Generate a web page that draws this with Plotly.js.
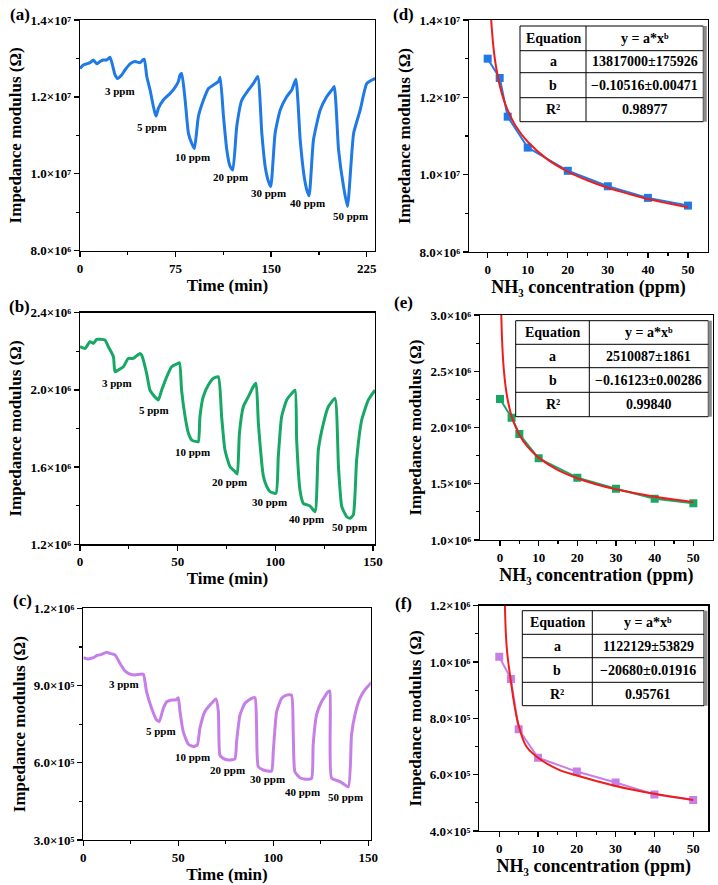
<!DOCTYPE html>
<html><head><meta charset="utf-8">
<script src="https://cdn.plot.ly/plotly-3.0.1.min.js"></script>
<style>html,body{margin:0;padding:0;background:#fff}#chart{width:718px;height:885px}</style>
</head><body><div id="chart"></div>
<script>
// ---------- DATA ----------
const timeA = [0,2.6,5.2,7.9,10.5,13.1,15.7,18.3,20.9,23.6,27.5,29.3,32.7,35.3,39.3,43.2,47.1,49.2,50.5,52.4,55,57.6,58.9,59.7,61.5,65.4,70.7,74.6,77.2,78.5,79.8,82.5,85.1,87.7,89.8,92.9,96.9,100.8,104.7,108.6,110,112.6,115.2,117.8,119.9,123,127,132.2,136.1,139.5,142.7,145.3,147.9,149.7,153.1,157.1,162.3,166.2,169.4,172.8,175.9,178,179.8,183.2,188.5,193.7,197.6,199.5,202.9,206.8,209.9,214.7,219.9,225.1,231.7];
const impA = [12.74e6,12.83e6,12.86e6,12.89e6,12.96e6,12.86e6,12.92e6,12.96e6,12.96e6,13.03e6,12.57e6,12.48e6,12.57e6,12.70e6,12.86e6,12.92e6,12.89e6,12.96e6,12.98e6,12.53e6,12.18e6,11.75e6,11.57e6,11.50e6,11.70e6,11.92e6,12.09e6,12.25e6,12.40e6,12.57e6,12.61e6,11.92e6,11.05e6,10.79e6,10.66e6,11.49e6,11.92e6,12.22e6,12.31e6,12.40e6,12.51e6,11.49e6,10.62e6,10.19e6,10.10e6,11.23e6,11.92e6,12.18e6,12.35e6,12.53e6,11.05e6,10.19e6,9.80e6,9.67e6,11.05e6,11.66e6,12.01e6,12.18e6,12.46e6,10.88e6,9.93e6,9.58e6,9.43e6,10.88e6,11.66e6,12.01e6,12.18e6,12.27e6,10.62e6,9.67e6,9.15e6,11.05e6,11.66e6,12.35e6,12.48e6];

const timeB = [0,2.6,5.1,6.8,8.5,10.2,12.8,14.5,17.1,17.9,19.6,22.2,24.7,27.3,30.7,31.6,34.1,35.8,37.5,40.1,41.8,44.4,46.9,49.5,50.9,52,53.8,55.5,57.2,59.7,60.6,61.4,63.1,65.7,68.3,70.8,72.5,74.2,76.8,79.4,80.5,81.6,83.6,86.2,88.7,90.1,91.3,93.9,95.6,97.3,100.3,101.5,103.2,105.8,108.4,110.1,110.9,112.6,114.3,117.7,120.3,122,124.6,127.1,130.5,132.3,134,136.5,138.2,139.9,141.6,144.2,147.6,151];
const impB = [2.224e6,2.215e6,2.250e6,2.241e6,2.262e6,2.262e6,2.258e6,2.224e6,2.172e6,2.094e6,2.103e6,2.120e6,2.163e6,2.163e6,2.189e6,2.180e6,2.086e6,1.999e6,1.974e6,1.948e6,1.999e6,2.068e6,2.120e6,2.134e6,2.141e6,1.999e6,1.861e6,1.775e6,1.740e6,1.732e6,1.732e6,1.861e6,1.965e6,2.025e6,2.060e6,2.068e6,1.861e6,1.689e6,1.602e6,1.576e6,1.564e6,1.775e6,1.913e6,1.965e6,2.017e6,2.034e6,1.827e6,1.551e6,1.499e6,1.473e6,1.464e6,1.654e6,1.861e6,1.948e6,1.982e6,1.999e6,1.740e6,1.481e6,1.412e6,1.399e6,1.369e6,1.689e6,1.827e6,1.913e6,1.956e6,1.602e6,1.395e6,1.343e6,1.335e6,1.352e6,1.637e6,1.844e6,1.948e6,1.999e6];

const timeC = [0,2.6,5.3,7,9.6,12.3,14,16.7,19.3,21.9,24.6,27.2,29.8,31.6,33.3,36,38.6,40,42.1,43.9,46.5,48.8,50,50.9,52.6,55.3,57.9,60,61.4,64,67.5,69.8,71.1,71.9,73.7,76.3,79.8,80.7,82.5,85.1,88.6,90.4,91.2,92.1,94.7,99.1,100,101.8,104.4,107,109.6,110.5,111.4,114,117.5,120.2,121,122.8,125.4,128.9,129.8,130.7,135.1,139.5,141.2,143,145.6,148.2,151.8];
const impC = [1.008e6,1.003e6,1.008e6,1.016e6,1.021e6,1.029e6,1.025e6,1.019e6,0.986e6,0.957e6,0.944e6,0.941e6,0.944e6,0.944e6,0.876e6,0.811e6,0.766e6,0.760e6,0.811e6,0.837e6,0.844e6,0.844e6,0.853e6,0.799e6,0.721e6,0.672e6,0.663e6,0.669e6,0.734e6,0.799e6,0.831e6,0.848e6,0.799e6,0.630e6,0.617e6,0.611e6,0.615e6,0.682e6,0.786e6,0.831e6,0.850e6,0.853e6,0.747e6,0.585e6,0.572e6,0.568e6,0.643e6,0.799e6,0.850e6,0.863e6,0.863e6,0.721e6,0.565e6,0.542e6,0.536e6,0.540e6,0.669e6,0.786e6,0.837e6,0.876e6,0.879e6,0.540e6,0.527e6,0.507e6,0.708e6,0.786e6,0.850e6,0.883e6,0.913e6];

const concPts = [0,3,5,10,20,30,40,50];
const impD = [13.0e6,12.5e6,11.5e6,10.7e6,10.1e6,9.7e6,9.4e6,9.2e6];
const impE = [2.253e6,2.087e6,1.942e6,1.726e6,1.554e6,1.456e6,1.367e6,1.326e6];
const impF = [1.019e6,0.940e6,0.761e6,0.660e6,0.611e6,0.572e6,0.530e6,0.510e6];

const fitConcD = [0.85,1,1.5,2,3,4,5,7,10,15,20,25,30,35,40,45,50];
const fitD = [14.06e6,13.82e6,13.24e6,12.85e6,12.31e6,11.94e6,11.67e6,11.26e6,10.85e6,10.39e6,10.08e6,9.85e6,9.66e6,9.51e6,9.37e6,9.26e6,9.16e6];
const fitConcE = [0.3,0.5,0.75,1,1.5,2,3,4,5,7,10,15,20,25,30,35,40,45,50];
const fitE = [3.05e6,2.81e6,2.63e6,2.51e6,2.35e6,2.245e6,2.10e6,2.01e6,1.936e6,1.834e6,1.732e6,1.622e6,1.549e6,1.494e6,1.451e6,1.415e6,1.385e6,1.359e6,1.336e6];
const fitConcF = [1.4,1.7,2,2.5,3,4,5,7,10,15,20,30,40,50];
const fitF = [1.23e6,1.10e6,1.04e6,0.98e6,0.93e6,0.84e6,0.775e6,0.70e6,0.66e6,0.62e6,0.597e6,0.56e6,0.532e6,0.510e6];

const ppmLabels = ['3 ppm','5 ppm','10 ppm','20 ppm','30 ppm','40 ppm','50 ppm'];

const tableRows = {
  d: [['Equation','y = a*xᵇ'],['a','13817000±175926'],['b','−0.10516±0.00471'],['R²','0.98977']],
  e: [['Equation','y = a*xᵇ'],['a','2510087±1861'],['b','−0.16123±0.00286'],['R²','0.99840']],
  f: [['Equation','y = a*xᵇ'],['a','1122129±53829'],['b','−20680±0.01916'],['R²','0.95761']]
};

// y tick values / labels
const yTicksA = [8e6,1.0e7,1.2e7,1.4e7], yTextA = ['8.0×10⁶','1.0×10⁷','1.2×10⁷','1.4×10⁷'], yMinorA=[9e6,1.1e7,1.3e7];
const yTicksB = [1.2e6,1.6e6,2.0e6,2.4e6], yTextB = ['1.2×10⁶','1.6×10⁶','2.0×10⁶','2.4×10⁶'], yMinorB=[1.4e6,1.8e6,2.2e6];
const yTicksC = [3e5,6e5,9e5,1.2e6], yTextC = ['3.0×10⁵','6.0×10⁵','9.0×10⁵','1.2×10⁶'], yMinorC=[4.5e5,7.5e5,1.05e6];
const yTicksE = [1.0e6,1.5e6,2.0e6,2.5e6,3.0e6], yTextE = ['1.0×10⁶','1.5×10⁶','2.0×10⁶','2.5×10⁶','3.0×10⁶'], yMinorE=[1.25e6,1.75e6,2.25e6,2.75e6];
const yTicksF = [4e5,6e5,8e5,1.0e6,1.2e6], yTextF = ['4.0×10⁵','6.0×10⁵','8.0×10⁵','1.0×10⁶','1.2×10⁶'], yMinorF=[5e5,7e5,9e5,1.1e6];
const xTicksA = [0,75,150,225], xMinorA = [37.5,112.5,187.5];
const xTicksBC = [0,50,100,150], xMinorBC = [25,75,125];
const xTicksConc = [0,10,20,30,40,50], xMinorConc = [5,15,25,35,45];

// ---------- STYLE / LAYOUT ----------
const FAM = 'Liberation Serif, Times New Roman, DejaVu Serif, serif';
const BLUE = '#1f7ae6', GREEN = '#17a865', PURPLE = '#c57fe6', RED = '#ee1c1c';
const W = 718, H = 885;
const fx = p => p / W, fy = p => 1 - p / H;
const boxes = {a:[80,20,375,250.7], b:[80,312.7,375,544.3], c:[83.3,608.3,370.7,840],
               d:[469,20,708,252], e:[480,315,712.7,540], f:[479.3,605.7,708.3,831]};

function axisBase(){
  return {showline:true, mirror:true, linecolor:'#000', linewidth:1.3, ticks:'outside', ticklen:5,
    tickwidth:1.3, tickcolor:'#000', showgrid:false, zeroline:false,
    tickfont:{family:FAM, size:13, color:'#000', weight:'bold'}, tickmode:'array'};
}
function xAxis(key, range, tv, minor, title, tsize){
  const b = boxes[key];
  return Object.assign(axisBase(), {domain:[fx(b[0]), fx(b[2])], range:range, tickvals:tv,
    ticktext: tv.map(v => String(v)),
    minor:{ticks:'outside', ticklen:3, tickwidth:1.2, tickcolor:'#000', tickmode:'array', tickvals:minor},
    title:{text:title, font:{family:FAM, size:tsize, color:'#000', weight:'bold'}, standoff:3}});
}
function yAxis(key, range, tv, tt, minor){
  const b = boxes[key];
  return Object.assign(axisBase(), {domain:[fy(b[3]), fy(b[1])], range:range, tickvals:tv,
    ticktext: tt,
    minor:{ticks:'outside', ticklen:3, tickwidth:1.2, tickcolor:'#000', tickmode:'array', tickvals:minor},
    title:{text:'Impedance modulus (Ω)', font:{family:FAM, size:17, color:'#000', weight:'bold'}, standoff:4}});
}

const timeTitle = 'Time (min)';
const concTitle = 'NH₃ concentration (ppm)';

const layout = {
  width:W, height:H, margin:{l:0,r:0,t:0,b:0}, paper_bgcolor:'#fff', plot_bgcolor:'#fff',
  showlegend:false, font:{family:FAM, size:13, color:'#000', weight:'bold'},
  xaxis:  Object.assign(xAxis('a',[0,231.5],xTicksA,xMinorA,timeTitle,17),{anchor:'y'}),
  yaxis:  Object.assign(yAxis('a',[8e6,1.4e7],yTicksA,yTextA,yMinorA),{anchor:'x'}),
  xaxis2: Object.assign(xAxis('b',[0,151],xTicksBC,xMinorBC,timeTitle,17),{anchor:'y2'}),
  yaxis2: Object.assign(yAxis('b',[1.2e6,2.4e6],yTicksB,yTextB,yMinorB),{anchor:'x2'}),
  xaxis3: Object.assign(xAxis('c',[0,151.3],xTicksBC,xMinorBC,timeTitle,17),{anchor:'y3'}),
  yaxis3: Object.assign(yAxis('c',[3e5,1.2e6],yTicksC,yTextC,yMinorC),{anchor:'x3'}),
  xaxis4: Object.assign(xAxis('d',[-4.66,55],xTicksConc,xMinorConc,concTitle,18),{anchor:'y4'}),
  yaxis4: Object.assign(yAxis('d',[8e6,1.4e7],yTicksA,yTextA,yMinorA),{anchor:'x4'}),
  xaxis5: Object.assign(xAxis('e',[-5.17,55],xTicksConc,xMinorConc,concTitle,18),{anchor:'y5'}),
  yaxis5: Object.assign(yAxis('e',[1e6,3e6],yTicksE,yTextE,yMinorE),{anchor:'x5'}),
  xaxis6: Object.assign(xAxis('f',[-5.15,53.9],xTicksConc,xMinorConc,concTitle,18),{anchor:'y6'}),
  yaxis6: Object.assign(yAxis('f',[4e5,1.2e6],yTicksF,yTextF,yMinorF),{anchor:'x6'}),
  annotations:[], shapes:[]
};

function txt(x, y, text, size){
  layout.annotations.push({xref:'paper', yref:'paper', x:fx(x), y:fy(y), text:text,
    showarrow:false, xanchor:'center', yanchor:'middle',
    font:{family:FAM, size:size, color:'#000', weight:'bold'}});
}

// panel letters
[['(a)',19.5,15],['(b)',19,306.7],['(c)',22,600],['(d)',403,15],['(e)',403,303],['(f)',403,603]]
  .forEach(p => txt(p[1], p[2], p[0], 17));

// ppm labels
const ppmPos = {
  a:[[120,90.7],[152.3,126.7],[192.7,156.7],[230,176.7],[268.3,192.7],[307.3,202.7],[350,216]],
  b:[[116.7,383.3],[154.3,410],[192.3,452.3],[229.3,481.7],[269.3,501.7],[306,519],[349.3,526.7]],
  c:[[124.3,684],[160.7,730.7],[192.7,756.7],[227.7,770.3],[267.3,779],[302.7,792.3],[345,796.7]]
};
Object.keys(ppmPos).forEach(k => ppmPos[k].forEach((p,i) => txt(p[0], p[1], ppmLabels[i], 11)));

// tables
const tableGeom = {
  d:{x0:520, xm:586, x1:703.3, rows:[26,50.7,72.7,97.7,121.7]},
  e:{x0:515.7, xm:589.3, x1:708.3, rows:[320.7,344.3,367.7,392.3,416.7]},
  f:{x0:522.3, xm:592.3, x1:704, rows:[610.7,634.3,657.7,682.3,705.7]}
};
Object.keys(tableGeom).forEach(k => {
  const g = tableGeom[k], r = g.rows;
  layout.shapes.push({type:'rect', xref:'paper', yref:'paper', x0:fx(g.x0), x1:fx(g.x1), y0:fy(r[4]), y1:fy(r[0]),
    line:{color:'#000', width:1}, fillcolor:'#fff', layer:'above'});
  layout.shapes.push({type:'rect', xref:'paper', yref:'paper', x0:fx(g.x1), x1:fx(g.x1+3.5), y0:fy(r[4]), y1:fy(r[0]),
    line:{width:0}, fillcolor:'#8a8a8a', layer:'above'});
  layout.shapes.push({type:'line', xref:'paper', yref:'paper', x0:fx(g.xm), x1:fx(g.xm), y0:fy(r[4]), y1:fy(r[0]),
    line:{color:'#000', width:1}, layer:'above'});
  for (let i=1;i<4;i++) layout.shapes.push({type:'line', xref:'paper', yref:'paper', x0:fx(g.x0), x1:fx(g.x1),
    y0:fy(r[i]), y1:fy(r[i]), line:{color:'#000', width:1}, layer:'above'});
  tableRows[k].forEach((row,i) => {
    const yc = (r[i]+r[i+1])/2;
    txt((g.x0+g.xm)/2, yc, row[0], 14);
    txt((g.xm+g.x1)/2, yc, row[1], 14);
  });
});

// ---------- TRACES ----------
const sm = {shape:'spline', smoothing:0.5};
const traces = [
  {x:timeA, y:impA, mode:'lines', line:Object.assign({color:BLUE, width:3}, sm), xaxis:'x', yaxis:'y'},
  {x:timeB, y:impB, mode:'lines', line:Object.assign({color:GREEN, width:3}, sm), xaxis:'x2', yaxis:'y2'},
  {x:timeC, y:impC, mode:'lines', line:Object.assign({color:PURPLE, width:3}, sm), xaxis:'x3', yaxis:'y3'},
  {x:concPts, y:impD, mode:'lines+markers', line:{color:BLUE, width:2}, marker:{symbol:'square', size:8, color:BLUE}, xaxis:'x4', yaxis:'y4'},
  {x:fitConcD, y:fitD, mode:'lines', line:{color:RED, width:2, shape:'spline'}, xaxis:'x4', yaxis:'y4'},
  {x:concPts, y:impE, mode:'lines+markers', line:{color:GREEN, width:2}, marker:{symbol:'square', size:8, color:GREEN}, xaxis:'x5', yaxis:'y5'},
  {x:fitConcE, y:fitE, mode:'lines', line:{color:RED, width:2, shape:'spline'}, xaxis:'x5', yaxis:'y5'},
  {x:concPts, y:impF, mode:'lines+markers', line:{color:PURPLE, width:2}, marker:{symbol:'square', size:8, color:PURPLE}, xaxis:'x6', yaxis:'y6'},
  {x:fitConcF, y:fitF, mode:'lines', line:{color:RED, width:2, shape:'spline'}, xaxis:'x6', yaxis:'y6'}
];

Plotly.newPlot('chart', traces, layout, {staticPlot:true, displayModeBar:false});
</script>
</body></html>
